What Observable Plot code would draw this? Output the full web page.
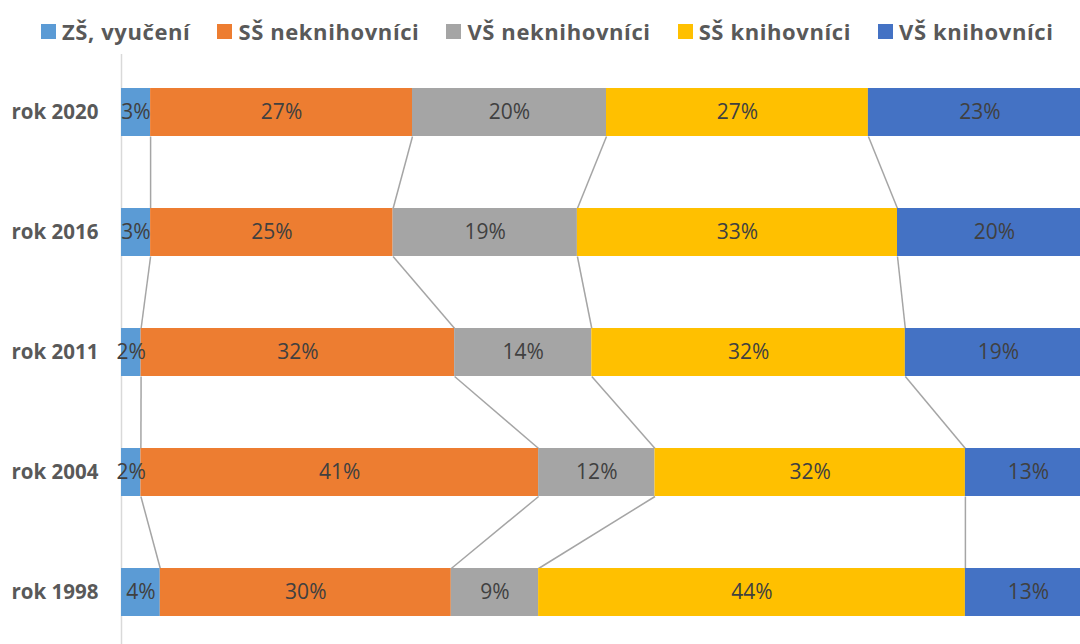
<!DOCTYPE html>
<html>
<head>
<meta charset="utf-8">
<script src="https://cdn.jsdelivr.net/npm/d3@7"></script>
<script src="https://cdn.jsdelivr.net/npm/@observablehq/plot@0.6"></script>
<style>
  html, body { margin: 0; padding: 0; background: #fff; }
  body { width: 1080px; height: 644px; overflow: hidden; font-family: "Open Sans", Lato, sans-serif; }
  #legend { height: 50px; display: flex; align-items: center; padding-left: 41px; gap: 27px; box-sizing: border-box; padding-top: 12px; }
  .item { display: flex; align-items: center; font-weight: 700; font-size: 22px; letter-spacing: 0.6px; color: #595959; white-space: nowrap; }
  .sw { width: 15px; height: 15px; margin-right: 6px; }
  svg { display: block; overflow: hidden; }
</style>
</head>
<body>
<div id="legend"></div>
<div id="chart"></div>
<script>
const years = ["rok 2020", "rok 2016", "rok 2011", "rok 2004", "rok 1998"];
const series = ["ZŠ, vyučení", "SŠ neknihovníci", "VŠ neknihovníci", "SŠ knihovníci", "VŠ knihovníci"];
const zsVyuceni = [3, 3, 2, 2, 4];
const ssNeknihovnici = [27, 25, 32, 41, 30];
const vsNeknihovnici = [20, 19, 14, 12, 9];
const ssKnihovnici = [27, 33, 32, 32, 44];
const vsKnihovnici = [23, 20, 19, 13, 13];
const colors = ["#5B9BD5", "#ED7D31", "#A5A5A5", "#FFC000", "#4472C4"];

const seriesValues = [zsVyuceni, ssNeknihovnici, vsNeknihovnici, ssKnihovnici, vsKnihovnici];
const half = 0.2;

// build segments (100% stacked: normalized by row total)
const segs = [];
const bounds = [];
years.forEach((yr, i) => {
  const total = d3.sum(seriesValues, s => s[i]);
  let cum = 0;
  const b = [0];
  series.forEach((s, j) => {
    const v = seriesValues[j][i];
    segs.push({i, series: s, value: v, x1: cum / total, x2: (cum + v) / total});
    cum += v;
    b.push(cum / total);
  });
  bounds.push(b);
});
const links = [];
for (let i = 0; i < years.length - 1; i++) {
  for (let k = 1; k < series.length; k++) {
    links.push({x1: bounds[i][k], y1: i + half, x2: bounds[i + 1][k], y2: i + 1 - half});
  }
}

// legend
const legend = document.getElementById("legend");
series.forEach((s, j) => {
  const it = document.createElement("div");
  it.className = "item";
  const sw = document.createElement("span");
  sw.className = "sw";
  sw.style.background = colors[j];
  it.appendChild(sw);
  it.appendChild(document.createTextNode(s));
  legend.appendChild(it);
});

const chart = Plot.plot({
  width: 1080,
  height: 594,
  marginLeft: 121,
  marginRight: 0,
  marginTop: 4,
  marginBottom: 0,
  style: {fontFamily: "'Open Sans', Lato, sans-serif", background: "#fff", overflow: "hidden"},
  x: {domain: [0, 1], range: [121, 1091], axis: null},
  y: {domain: [-0.5, 4.5], range: [2, 602], axis: null},
  color: {domain: series, range: colors},
  marks: [
    Plot.ruleX([0], {stroke: "#D9D9D9", strokeWidth: 1.5}),
    Plot.link(links, {x1: "x1", y1: "y1", x2: "x2", y2: "y2", stroke: "#A5A5A5", strokeWidth: 1.5}),
    Plot.rect(segs, {x1: "x1", x2: "x2", y1: d => d.i - half, y2: d => d.i + half, fill: "series"}),
    Plot.text(segs, {x: d => (d.x1 + d.x2) / 2, y: "i", text: d => d.value + "%", fill: "#404040", fontSize: 21}),
    Plot.axisY({ticks: d3.range(years.length), tickFormat: i => years[i], tickSize: 0, tickPadding: 23, fontSize: 20.5, fontWeight: "bold", color: "#595959", label: null})
  ]
});
document.getElementById("chart").appendChild(chart);
</script>
</body>
</html>
